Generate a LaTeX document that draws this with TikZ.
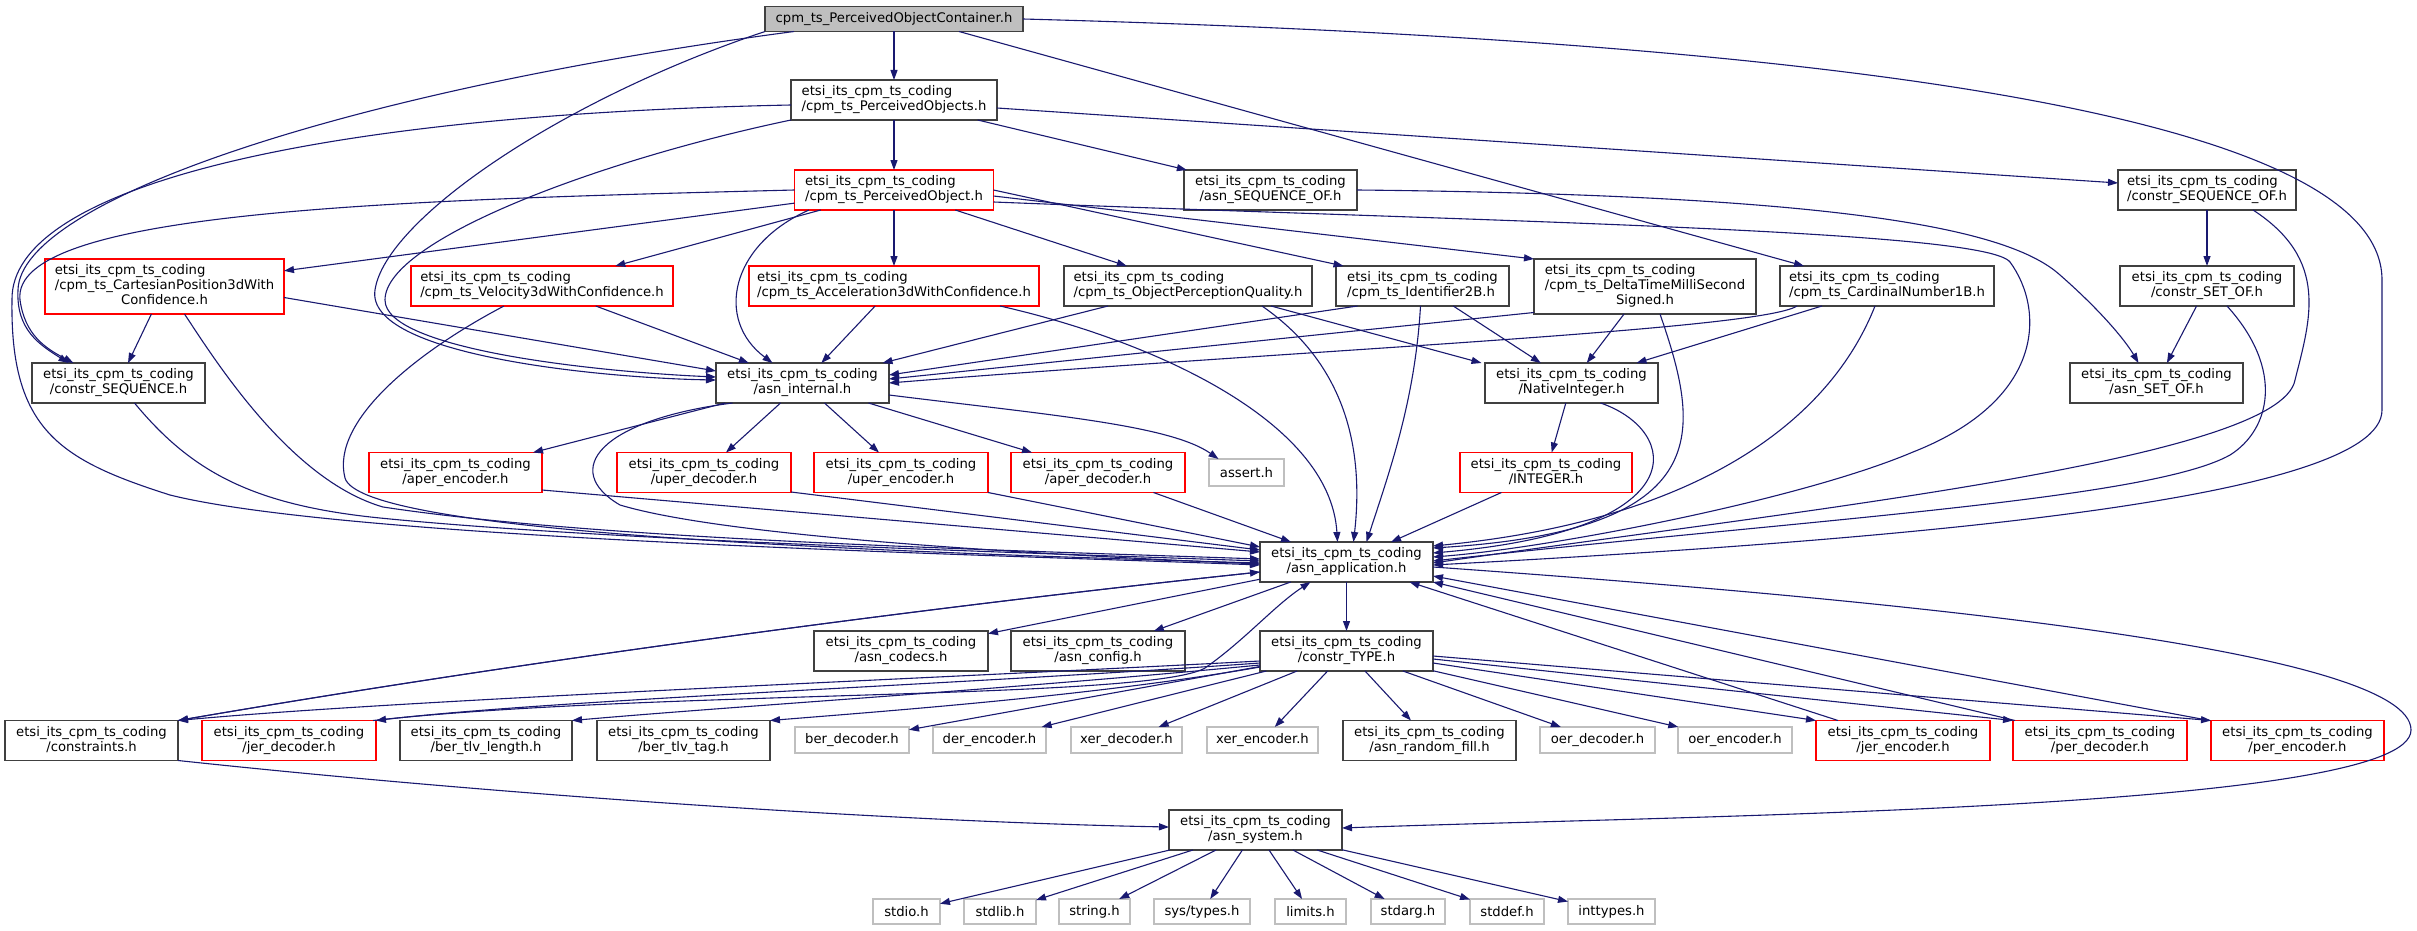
\documentclass[tikz,border=0pt]{standalone}
\usepackage{fontspec}
\setmainfont{DejaVu Sans}
\usetikzlibrary{arrows.meta}
\definecolor{eb}{HTML}{191970}
\definecolor{gdk}{HTML}{404040}
\definecolor{glt}{HTML}{BFBFBF}
\newcommand\nodeL[2]{\begin{tabular}{@{}l@{}}#1\\#2\end{tabular}}
\newcommand\nodeC[2]{\begin{tabular}{@{}c@{}}#1\\#2\end{tabular}}
\newcommand\nodeLc[3]{\begin{tabular}{@{}l@{}}#1\\#2\\\multicolumn{1}{@{}c@{}}{#3}\end{tabular}}
\newcommand\ec{etsi\_its\_cpm\_ts\_coding}
\tikzset{
 base/.style={inner sep=0pt, outer sep=0pt, line width=1.2pt, fill=white, font=\fontsize{13.2}{15}\selectfont},
 bx/.style={base, draw=gdk, minimum height=40pt},
 rbx/.style={base, draw=red, minimum height=40pt},
 gbx/.style={base, draw=glt, minimum height=26pt},
 conn/.style={draw=eb, line width=1.1pt, -{Triangle[length=10pt,width=7pt]}},
}
\begin{document}
\begin{tikzpicture}[x=1pt,y=-1pt]
\fill[white] (0,0) rectangle (2417,931);
\useasboundingbox (0,0) rectangle (2417,931);
% nodes
\node[bx, fill=glt, minimum width=258pt, minimum height=25pt] (A) at (894,19) {cpm\_ts\_PerceivedObjectContainer.h};
\node[bx, minimum width=206pt] (B) at (894,100) {\nodeL{\ec}{/cpm\_ts\_PerceivedObjects.h}};
\node[rbx, minimum width=199pt] (C) at (894,190) {\nodeL{\ec}{/cpm\_ts\_PerceivedObject.h}};
\node[rbx, minimum width=239pt, minimum height=55pt] (D) at (164.5,286.5) {\nodeLc{\ec}{/cpm\_ts\_CartesianPosition3dWith}{Confidence.h}};
\node[rbx, minimum width=262pt] (E) at (542,286) {\nodeL{\ec}{/cpm\_ts\_Velocity3dWithConfidence.h}};
\node[rbx, minimum width=290pt] (F) at (894,286) {\nodeL{\ec}{/cpm\_ts\_Acceleration3dWithConfidence.h}};
\node[bx, minimum width=173pt] (G) at (118.5,383) {\nodeC{\ec}{/constr\_SEQUENCE.h}};
\node[bx, minimum width=173pt] (H) at (802.5,383) {\nodeC{\ec}{/asn\_internal.h}};
\node[bx, minimum width=173pt] (I) at (1270.5,190) {\nodeC{\ec}{/asn\_SEQUENCE\_OF.h}};
\node[bx, minimum width=178pt] (J) at (2207,190) {\nodeL{\ec}{/constr\_SEQUENCE\_OF.h}};
\node[bx, minimum width=248pt] (K) at (1188,286) {\nodeL{\ec}{/cpm\_ts\_ObjectPerceptionQuality.h}};
\node[bx, minimum width=173pt] (L) at (1422.5,286) {\nodeL{\ec}{/cpm\_ts\_Identifier2B.h}};
\node[bx, minimum width=222pt, minimum height=55pt] (M) at (1645,286.5) {\nodeLc{\ec}{/cpm\_ts\_DeltaTimeMilliSecond}{Signed.h}};
\node[bx, minimum width=214pt] (N) at (1887,286) {\nodeL{\ec}{/cpm\_ts\_CardinalNumber1B.h}};
\node[bx, minimum width=174pt] (O) at (2207,286) {\nodeC{\ec}{/constr\_SET\_OF.h}};
\node[bx, minimum width=173pt] (P) at (1571.5,383) {\nodeC{\ec}{/NativeInteger.h}};
\node[bx, minimum width=173pt] (Q) at (2156.5,383) {\nodeC{\ec}{/asn\_SET\_OF.h}};
\node[rbx, minimum width=173pt] (R) at (455.5,472.5) {\nodeC{\ec}{/aper\_encoder.h}};
\node[rbx, minimum width=174pt] (S) at (704,472.5) {\nodeC{\ec}{/uper\_decoder.h}};
\node[rbx, minimum width=174pt] (T) at (901,472.5) {\nodeC{\ec}{/uper\_encoder.h}};
\node[rbx, minimum width=174pt] (U) at (1098,472.5) {\nodeC{\ec}{/aper\_decoder.h}};
\node[gbx, minimum width=75pt, minimum height=27pt] (V) at (1246.5,472.5) {assert.h};
\node[rbx, minimum width=172pt] (W) at (1546,472.5) {\nodeC{\ec}{/INTEGER.h}};
\node[bx, minimum width=173pt] (X) at (1346.5,562) {\nodeC{\ec}{/asn\_application.h}};
\node[bx, minimum width=174pt] (codecs) at (901,651) {\nodeC{\ec}{/asn\_codecs.h}};
\node[bx, minimum width=174pt] (config) at (1098,651) {\nodeC{\ec}{/asn\_config.h}};
\node[bx, minimum width=173pt] (ctype) at (1346.5,651) {\nodeC{\ec}{/constr\_TYPE.h}};
\node[bx, minimum width=173pt] (cons) at (91.5,740.5) {\nodeC{\ec}{/constraints.h}};
\node[rbx, minimum width=174pt] (jerd) at (289,740.5) {\nodeC{\ec}{/jer\_decoder.h}};
\node[bx, minimum width=172pt] (btl) at (486,740.5) {\nodeC{\ec}{/ber\_tlv\_length.h}};
\node[bx, minimum width=173pt] (btt) at (683.5,740.5) {\nodeC{\ec}{/ber\_tlv\_tag.h}};
\node[gbx, minimum width=114pt] (berd) at (852,740) {ber\_decoder.h};
\node[gbx, minimum width=113pt] (dere) at (989.5,740) {der\_encoder.h};
\node[gbx, minimum width=111pt] (xerd) at (1126.5,740) {xer\_decoder.h};
\node[gbx, minimum width=111pt] (xere) at (1262.5,740) {xer\_encoder.h};
\node[bx, minimum width=173pt] (arf) at (1429.5,740.5) {\nodeC{\ec}{/asn\_random\_fill.h}};
\node[gbx, minimum width=115pt] (oerd) at (1597.5,740) {oer\_decoder.h};
\node[gbx, minimum width=114pt] (oere) at (1735,740) {oer\_encoder.h};
\node[rbx, minimum width=174pt] (jere) at (1903,740.5) {\nodeC{\ec}{/jer\_encoder.h}};
\node[rbx, minimum width=174pt] (perd) at (2100,740.5) {\nodeC{\ec}{/per\_decoder.h}};
\node[rbx, minimum width=173pt] (pere) at (2297.5,740.5) {\nodeC{\ec}{/per\_encoder.h}};
\node[bx, minimum width=173pt] (sys) at (1255.5,830) {\nodeC{\ec}{/asn\_system.h}};
\node[gbx, minimum width=67pt, minimum height=25pt] (stdio) at (906.5,911.5) {stdio.h};
\node[gbx, minimum width=72pt, minimum height=25pt] (stdlib) at (1000,911.5) {stdlib.h};
\node[gbx, minimum width=71pt, minimum height=25pt] (string) at (1094.5,911.5) {string.h};
\node[gbx, minimum width=96pt, minimum height=25pt] (systypes) at (1202,911.5) {sys/types.h};
\node[gbx, minimum width=71pt, minimum height=25pt] (limits) at (1310.5,911.5) {limits.h};
\node[gbx, minimum width=74pt, minimum height=25pt] (stdarg) at (1408,911.5) {stdarg.h};
\node[gbx, minimum width=74pt, minimum height=25pt] (stddef) at (1507,911.5) {stddef.h};
\node[gbx, minimum width=87pt, minimum height=25pt] (inttypes) at (1611.5,911.5) {inttypes.h};
% edges from A
\draw[conn] (A) -- (B);
\draw[conn] ([xshift=-100pt]A.south) .. controls (350,90) and (20,200) .. (18,290) .. controls (16,330) and (40,345) .. ([xshift=-50pt]G.north);
\draw[conn] (A.south west) .. controls (560,100) and (385,220) .. (375,290) .. controls (365,355) and (600,378) .. ([yshift=3pt]H.west);
\draw[conn] ([xshift=65pt]A.south) -- ([xshift=-83pt]N.north);
\draw[conn] (A.east) .. controls (1800,40) and (2382,110) .. (2382,280) -- (2382,410) .. controls (2382,500) and (1900,540) .. ([yshift=-3pt]X.east);
% edges from B
\draw[conn] (B) -- (C);
\draw[conn] ([yshift=-5pt]B.west) .. controls (300,115) and (10,190) .. (12,300) .. controls (10,430) and (60,460) .. (170,495) .. controls (350,540) and (1000,555) .. ([yshift=-3pt]X.west);
\draw[conn] (B.south west) .. controls (600,160) and (385,240) .. (385,300) .. controls (385,350) and (600,372) .. ([yshift=6pt]H.west);
\draw[conn] (B) -- (I);
\draw[conn] ([yshift=-8pt]B.east) -- ([yshift=7pt]J.west);
% edges from C
\draw[conn] (C) -- (D);
\draw[conn] (C) -- (E);
\draw[conn] (C) -- (F);
\draw[conn] (C) -- (K);
\draw[conn] (C.east) -- ([xshift=-79pt]L.north);
\draw[conn] ([yshift=-6pt]C.east) -- (M.north west);
\draw[conn] (C.west) .. controls (400,200) and (10,210) .. (20,300) .. controls (25,335) and (45,348) .. ([xshift=-45pt]G.north);
\draw[conn] ([xshift=-85pt]C.south) .. controls (730,245) and (715,320) .. ([xshift=-30pt]H.north);
\draw[conn] ([yshift=-12pt]C.east) .. controls (1500,222) and (1985,230) .. (2010,262) .. controls (2045,310) and (2045,400) .. (1913,452) .. controls (1800,500) and (1550,548) .. ([yshift=5pt]X.east);
% second level
\draw[conn] (D) -- (G);
\draw[conn] ([yshift=-11pt]D.east) -- ([yshift=12pt]H.west);
\draw[conn] ([xshift=20pt]D.south) .. controls (215,360) and (290,480) .. (383,507) .. controls (600,540) and (1000,550) .. ([yshift=3pt]X.west);
\draw[conn] (E) -- (H);
\draw[conn] ([xshift=-38pt]E.south) .. controls (420,350) and (330,420) .. (345,478) .. controls (360,530) and (800,550) .. ([yshift=-1pt]X.west);
\draw[conn] (F) -- (H);
\draw[conn] ([xshift=106pt]F.south) .. controls (1150,340) and (1330,420) .. ([xshift=-9pt]X.north);
\draw[conn] ([xshift=-80pt]K.south) -- ([xshift=80pt]H.north);
\draw[conn] ([xshift=83pt]K.south) -- ([xshift=-90pt]P.north);
\draw[conn] ([xshift=74pt]K.south) .. controls (1340,360) and (1365,440) .. ([xshift=7pt]X.north);
\draw[conn] ([xshift=-65pt]L.south) -- ([yshift=8pt]H.east);
\draw[conn] (L) -- (P);
\draw[conn] ([xshift=-2pt]L.south) .. controls (1415,400) and (1390,470) .. ([xshift=20pt]X.north);
\draw[conn] ([yshift=-26pt]M.west) -- ([yshift=4pt]H.east);
\draw[conn] (M) -- (P);
\draw[conn] ([xshift=15pt]M.south) .. controls (1700,430) and (1720,530) .. ([yshift=14pt]X.east);
\draw[conn] ([xshift=-90pt]N.south) .. controls (1760,330) and (1300,350) .. (H.east);
\draw[conn] (N) -- (P);
\draw[conn] ([xshift=-12pt]N.south) .. controls (1830,420) and (1700,520) .. ([yshift=16pt]X.east);
\draw[conn] (P) -- (W);
\draw[conn] ([xshift=29pt]P.south) .. controls (1680,430) and (1700,530) .. ([yshift=9pt]X.east);
\draw[conn] (W) -- (X);
\draw[conn] (U) -- (X);
\draw[conn] (I.east) .. controls (1850,195) and (2010,230) .. (2060,275) .. controls (2100,310) and (2125,340) .. ([xshift=-18pt]Q.north);
\draw[conn] (J) -- (O);
\draw[conn] (O) -- (Q);
\draw[conn] ([xshift=46pt]J.south) .. controls (2330,260) and (2310,320) .. (2295,380) .. controls (2280,460) and (1800,510) .. ([yshift=-1pt]X.east);
\draw[conn] ([xshift=20pt]O.south) .. controls (2285,370) and (2270,430) .. (2230,455) .. controls (2150,500) and (1800,520) .. ([yshift=1pt]X.east);
% asn_internal
\draw[conn] (H) -- (R);
\draw[conn] (H) -- (S);
\draw[conn] (H) -- (T);
\draw[conn] (H) -- (U);
\draw[conn] ([yshift=-12pt]H.east) .. controls (1050,415) and (1170,425) .. ([xshift=-28pt]V.north);
\draw[conn] ([xshift=-70pt]H.south) .. controls (600,420) and (560,470) .. (620,505) .. controls (720,535) and (1000,553) .. ([yshift=-2pt]X.west);
\draw[conn] ([xshift=16pt]G.south) .. controls (190,470) and (250,505) .. (380,518) .. controls (600,540) and (1000,552) .. ([yshift=1pt]X.west);
\draw[conn] ([yshift=-17.5pt]R.east) -- ([yshift=10pt]X.west);
\draw[conn] ([yshift=-19.5pt]S.east) -- ([yshift=12pt]X.west);
\draw[conn] (T.south east) -- ([yshift=15pt]X.west);
% asn_application
\draw[conn] (X) -- (ctype);
\draw[conn] (X) -- (codecs);
\draw[conn] (X) -- (config);
\draw[conn] ([yshift=-10pt]X.west) .. controls (900,610) and (500,665) .. (cons.north east);
\draw[conn] (cons.north east) .. controls (500,665) and (900,610) .. ([yshift=-10pt]X.west);
\draw[conn] ([yshift=-5pt]X.east) .. controls (1900,600) and (2411,650) .. (2411,730) .. controls (2411,810) and (1700,815) .. ([yshift=2pt]sys.east);
\draw[conn] (cons.south east) .. controls (500,795) and (900,822) .. ([yshift=3pt]sys.west);
% constr_TYPE
\draw[conn] ([yshift=-10pt]ctype.west) .. controls (900,680) and (400,700) .. (cons.north east);
\draw[conn] ([yshift=-12pt]ctype.west) .. controls (950,685) and (550,700) .. (jerd.north east);
\draw[conn] ([yshift=-14pt]ctype.west) .. controls (1000,690) and (750,705) .. (btl.north east);
\draw[conn] ([yshift=-16pt]ctype.west) .. controls (1100,695) and (900,710) .. (btt.north east);
\draw[conn] (ctype) -- (berd);
\draw[conn] (ctype) -- (dere);
\draw[conn] (ctype) -- (xerd);
\draw[conn] (ctype) -- (xere);
\draw[conn] (ctype) -- (arf);
\draw[conn] (ctype) -- (oerd);
\draw[conn] (ctype) -- (oere);
\draw[conn] ([yshift=-12pt]ctype.east) -- (jere.north west);
\draw[conn] ([yshift=-8pt]ctype.east) -- (perd.north west);
\draw[conn] ([yshift=-5pt]ctype.east) -- (pere.north west);
% back edges
\draw[conn] ([xshift=-3pt]jerd.north east) .. controls (650,690) and (1150,700) .. (1205,668) .. controls (1245,640) and (1275,605) .. ([xshift=-36pt]X.south);
\draw[conn] ([xshift=-65pt]jere.north) -- ([xshift=63pt]X.south);
\draw[conn] ([xshift=-85pt]perd.north) -- (X.south east);
\draw[conn] ([xshift=-88pt]pere.north) -- ([yshift=-14pt]X.east);
% asn_system
\foreach \t in {stdio,stdlib,string,systypes,limits,stdarg,stddef,inttypes} \draw[conn] (sys) -- (\t);
\end{tikzpicture}
\end{document}
